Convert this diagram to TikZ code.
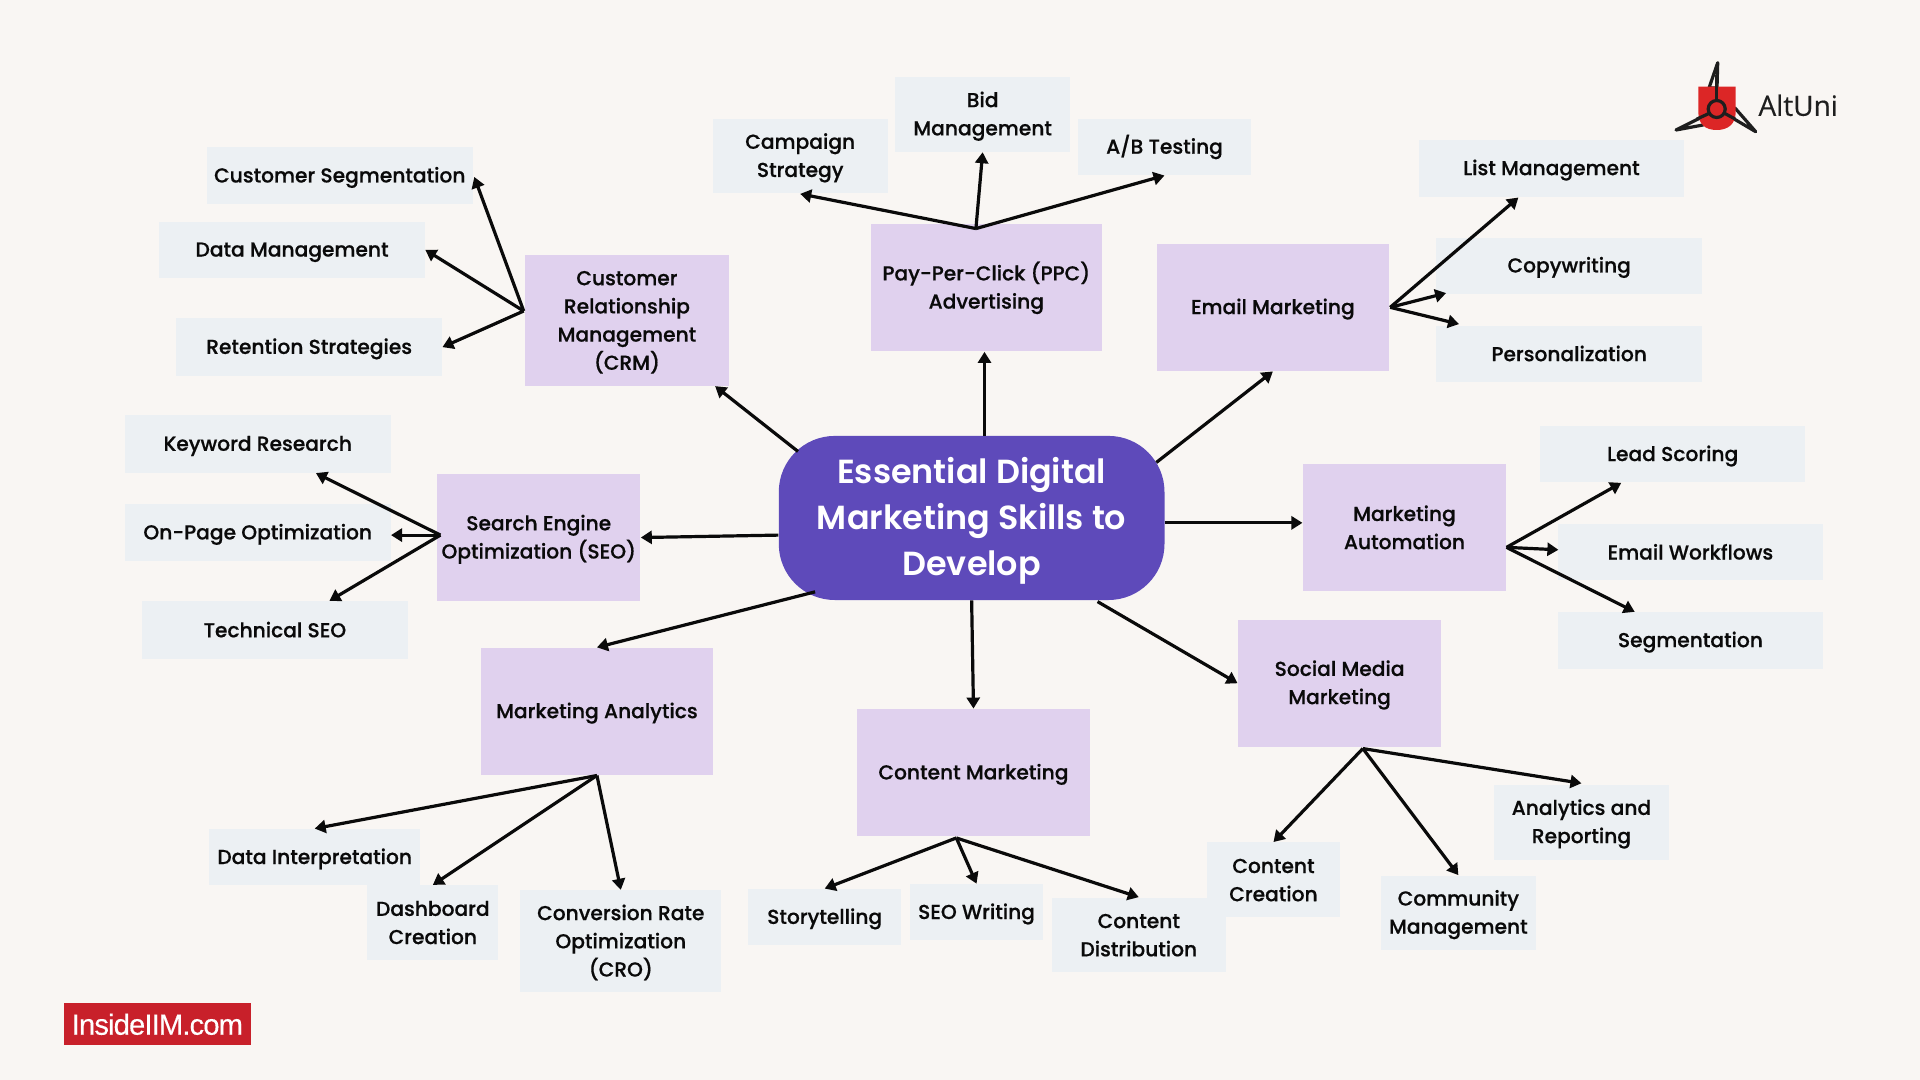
\documentclass[tikz,border=0pt]{standalone}
\usepackage{fontspec}
\setmainfont{Poppins Medium}[FakeBold=0.55]
\newfontfamily\headfont{Poppins SemiBold}
\newfontfamily\logofont{Open Sans}[FakeBold=0.35]
\newfontfamily\brandfont{Liberation Sans}
\usetikzlibrary{arrows.meta,calc}
\definecolor{paper}{HTML}{F9F6F3}
\definecolor{greybox}{HTML}{ECF0F3}
\definecolor{lilac}{HTML}{E0D1EE}
\definecolor{violet}{HTML}{5E4ABA}
\definecolor{ink}{HTML}{0A0A0A}
\definecolor{logored}{HTML}{DC2626}
\definecolor{logoink}{HTML}{1E1E1E}
\definecolor{brandred}{HTML}{C8202A}
\def\un{0.61224pt}
\tikzset{
  boxbase/.style={inner sep=0pt,align=center,text=ink,font=\fontsize{10.1}{14.1}\selectfont},
  leaf/.style={boxbase,fill=greybox},
  topic/.style={boxbase,fill=lilac},
  hublink/.style={line width=1.6pt,color=ink,-{Triangle[length=5.5pt,width=6.5pt]}},
  markline/.style={logoink,line width=1.6pt,line join=round},
}
% Struts keep the cap height of every label on the box's middle
\newcommand{\topstrut}{\rule{0pt}{9.5pt}}
\newcommand{\botstrut}{\rule[-2.2pt]{0pt}{2.2pt}}
% A box given by its corners: name, style, x0, y0, x1, y1, label
\newcommand{\bx}[7]{\node[#2,minimum width={(#5-#3)*\un},minimum height={(#6-#4)*\un}] (#1) at ({(#3+#5)/2},{(#4+#6)/2}) {\topstrut#7\botstrut};}
\begin{document}
\begin{tikzpicture}[x=\un,y=-\un]
\useasboundingbox (0,0) rectangle (1568,882);
\fill[paper] (0,0) rectangle (1568,882);

% Central node
\node[fill=violet,rounded corners=28pt,inner sep=0pt,minimum width={315*\un},minimum height={134*\un},align=center,text=white,font=\headfont\fontsize{16.7}{23}\selectfont] (core) at (793.5,423) {\rule{0pt}{16pt}Essential Digital\\Marketing Skills to\\Develop\rule[-4pt]{0pt}{4pt}};

% Main topics
\bx{crm}{topic}{429}{208}{595}{315}{Customer\\Relationship\\Management\\(CRM)}
\bx{ppc}{topic}{711}{183}{900}{287}{Pay-Per-Click (PPC)\\Advertising}
\bx{email}{topic}{945}{199}{1134}{303}{Email Marketing}
\bx{auto}{topic}{1064}{379}{1230}{483}{Marketing\\Automation}
\bx{social}{topic}{1011}{506}{1177}{610}{Social Media\\Marketing}
\bx{content}{topic}{700}{579}{890}{683}{Content Marketing}
\bx{analytics}{topic}{393}{529}{582}{633}{Marketing Analytics}
\bx{seo}{topic}{357}{387}{523}{491}{Search Engine\\Optimization (SEO)}

% Sub-skills
\bx{custseg}{leaf}{169}{120}{386}{167}{Customer Segmentation}
\bx{datamgmt}{leaf}{130}{181}{347}{227}{Data Management}
\bx{retention}{leaf}{144}{260}{361}{307}{Retention Strategies}
\bx{keyword}{leaf}{102}{339}{319}{386}{Keyword Research}
\bx{onpage}{leaf}{102}{412}{319}{458}{On-Page Optimization}
\bx{technical}{leaf}{116}{491}{333}{538}{Technical SEO}
\bx{campaign}{leaf}{582}{97}{725}{158}{Campaign\\Strategy}
\bx{bid}{leaf}{731}{63}{874}{124}{Bid\\Management}
\bx{abtest}{leaf}{880}{97}{1022}{143}{A/B Testing}
\bx{listmgmt}{leaf}{1159}{114}{1375}{161}{List Management}
\bx{copywriting}{leaf}{1173}{194}{1390}{240}{Copywriting}
\bx{personal}{leaf}{1173}{266}{1390}{312}{Personalization}
\bx{lead}{leaf}{1258}{348}{1474}{394}{Lead Scoring}
\bx{workflows}{leaf}{1272}{428}{1489}{474}{Email Workflows}
\bx{segmentation}{leaf}{1272}{500}{1489}{546}{Segmentation}
\bx{reporting}{leaf}{1220}{641}{1363}{702}{Analytics and\\Reporting}
\bx{community}{leaf}{1128}{715}{1254}{776}{Community\\Management}
\bx{creation}{leaf}{986}{688}{1094}{749}{Content\\Creation}
\bx{distribution}{leaf}{859}{733}{1001}{794}{Content\\Distribution}
\bx{seowriting}{leaf}{743}{722}{852}{768}{SEO Writing}
\bx{storytelling}{leaf}{611}{726}{736}{772}{Storytelling}
\bx{conversion}{leaf}{425}{727}{589}{810}{Conversion Rate\\Optimization\\(CRO)}
\bx{dashboard}{leaf}{300}{723}{407}{784}{Dashboard\\Creation}
\bx{interpret}{leaf}{171}{677}{343}{723}{Data Interpretation}

% Spokes from the central node
\draw[hublink] ($(core.north west)+(16,13)$) -- ($(crm.south)+(72,0)$);
\draw[hublink] ($(core.north)+(10.5,0)$) -- ($(ppc.south)+(-1.5,0)$);
\draw[hublink] ($(core.north east)+(-7,22)$) -- (email.south);
\draw[hublink] ($(core.east)+(0,4)$) -- ($(auto.west)+(0,-4)$);
\draw[hublink] ($(core.south east)+(-55,1)$) -- (social.west);
\draw[hublink] (core.south) -- (content.north);
\draw[hublink] ($(core.south west)+(30,-7)$) -- (analytics.north);
\draw[hublink] ($(core.west)+(0,14)$) -- (seo.east);

% Branch points on each topic
\coordinate (crmhub) at ($(crm.west)+(-1,-7.5)$);
\coordinate (ppchub) at ($(ppc.north)+(-8.5,4)$);
\coordinate (emailhub) at ($(email.east)+(1,0)$);
\coordinate (autohub) at ($(auto.east)+(0,16)$);
\coordinate (socialhub) at ($(social.south)+(19,1)$);
\coordinate (contenthub) at ($(content.south)+(-14,1)$);
\coordinate (analyticshub) at (analytics.south);
\coordinate (seohub) at ($(seo.west)+(3,-2)$);

% Branches to the sub-skills
\draw[hublink] (crmhub) -- ($(custseg.east)+(1,1)$);
\draw[hublink] (crmhub) -- (datamgmt.east);
\draw[hublink] (crmhub) -- (retention.east);
\draw[hublink] (ppchub) -- (campaign.south);
\draw[hublink] (ppchub) -- (bid.south);
\draw[hublink] (ppchub) -- (abtest.south);
\draw[hublink] (emailhub) -- ($(listmgmt.south)+(-27,0)$);
\draw[hublink] (emailhub) -- ($(copywriting.south)+(-100.5,-1)$);
\draw[hublink] (emailhub) -- ($(personal.north)+(-90,-1)$);
\draw[hublink] (autohub) -- ($(lead.south)+(-42,0)$);
\draw[hublink] (autohub) -- ($(workflows.west)+(1,-2)$);
\draw[hublink] (autohub) -- ($(segmentation.north)+(-45.5,0)$);
\draw[hublink] (socialhub) -- ($(reporting.north)+(0,-1)$);
\draw[hublink] (socialhub) -- (community.north);
\draw[hublink] (socialhub) -- (creation.north);
\draw[hublink] (contenthub) -- (storytelling.north);
\draw[hublink] (contenthub) -- (seowriting.north);
\draw[hublink] (contenthub) -- (distribution.north);
\draw[hublink] (analyticshub) -- (interpret.north);
\draw[hublink] (analyticshub) -- (dashboard.north);
\draw[hublink] (analyticshub) -- (conversion.north);
\draw[hublink] (seohub) -- ($(keyword.south)+(47.5,0)$);
\draw[hublink] (seohub) -- ($(onpage.east)+(0,2)$);
\draw[hublink] (seohub) -- ($(technical.north)+(44.5,0)$);

% Brand mark, drawn in full-size pixel units
\begin{scope}[scale=0.81667]
  \draw[markline,fill=paper] (1717.7,62.7) -- (1709,88) -- (1717,88) -- cycle;
  \draw[markline,fill=paper] (1676,130) -- (1703,125) -- (1710,113) -- cycle;
  \draw[markline,fill=paper] (1755.7,131.7) -- (1735,108) -- (1724,113) -- cycle;
  \fill[logored] (1698.3,86.7) -- (1735.7,86.7) -- (1735.7,112) .. controls (1735.7,124) and (1728,130) .. (1716.7,130) .. controls (1705,130) and (1698.3,124) .. (1698.3,112) -- cycle;
  \draw[markline] (1716.7,75) -- (1716.7,101);
  \draw[markline] (1697,119) -- (1710,113);
  \draw[markline] (1735,119) -- (1724,113);
  \draw[markline] (1716.7,109) circle[radius=8.5];
\end{scope}
\node[inner sep=0pt,text=logoink,font=\logofont\fontsize{14}{16}\selectfont] (altuni) at (1468.5,86) {AltUni};

% Publisher badge
\node[fill=brandred,inner sep=0pt,minimum width={153*\un},minimum height={34*\un},text=white,font=\brandfont\fontsize{14.6}{16}\selectfont] (insideiim) at (128.5,836.5) {\addfontfeatures{LetterSpace=-3,FakeBold=0.3}InsideIIM.com};
\end{tikzpicture}
\end{document}
